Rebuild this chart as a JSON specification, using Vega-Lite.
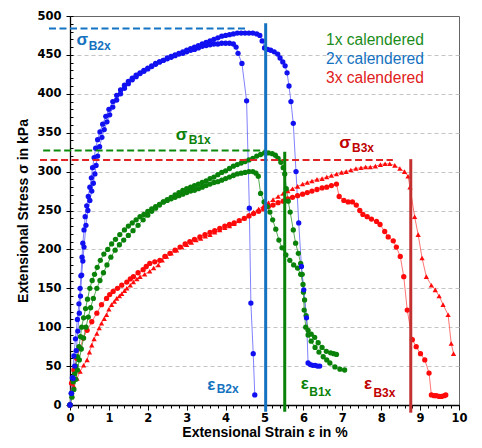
{
"$schema":"https://vega.github.io/schema/vega-lite/v6.json",
"width":389,"height":389,
"autosize":{"type":"none"},
"padding":{"left":70,"top":16,"right":23,"bottom":43},
"background":"white",
"config":{"view":{"stroke":"#666","strokeWidth":1},"axis":{"labelFont":"DejaVu Sans","labelFontWeight":"bold","labelFontSize":11.5,"labelColor":"black","titleFont":"Liberation Sans","titleFontSize":14,"titleFontWeight":"bold","titleColor":"black","domainColor":"black","domainWidth":1.3,"tickColor":"black","tickWidth":1,"labelFlush":false,"labelOverlap":false,"grid":false}},
"datasets":{
"curves":[
{"s":"3c","x":0,"y":0},{"s":"3c","x":0.04,"y":28},{"s":"3c","x":0.1,"y":45},{"s":"3c","x":0.17,"y":60},{"s":"3c","x":0.26,"y":73},{"s":"3c","x":0.34,"y":86},{"s":"3c","x":0.44,"y":96},{"s":"3c","x":0.56,"y":107},{"s":"3c","x":0.69,"y":118},{"s":"3c","x":0.81,"y":129},{"s":"3c","x":0.94,"y":137},{"s":"3c","x":1.02,"y":142},{"s":"3c","x":1.11,"y":146},{"s":"3c","x":1.22,"y":150},{"s":"3c","x":1.33,"y":154},{"s":"3c","x":1.46,"y":158},{"s":"3c","x":1.55,"y":162},{"s":"3c","x":1.63,"y":165},{"s":"3c","x":1.75,"y":170},{"s":"3c","x":1.88,"y":174},{"s":"3c","x":1.96,"y":178},{"s":"3c","x":2.05,"y":182},{"s":"3c","x":2.18,"y":184},{"s":"3c","x":2.31,"y":186},{"s":"3c","x":2.44,"y":191},{"s":"3c","x":2.57,"y":195},{"s":"3c","x":2.7,"y":199},{"s":"3c","x":2.83,"y":203},{"s":"3c","x":2.96,"y":207},{"s":"3c","x":3.08,"y":210},{"s":"3c","x":3.2,"y":213},{"s":"3c","x":3.34,"y":216},{"s":"3c","x":3.47,"y":219},{"s":"3c","x":3.6,"y":222},{"s":"3c","x":3.72,"y":224},{"s":"3c","x":3.85,"y":227},{"s":"3c","x":3.98,"y":230},{"s":"3c","x":4.1,"y":232},{"s":"3c","x":4.22,"y":234},{"s":"3c","x":4.35,"y":237},{"s":"3c","x":4.48,"y":240},{"s":"3c","x":4.6,"y":243},{"s":"3c","x":4.72,"y":246},{"s":"3c","x":4.85,"y":249},{"s":"3c","x":4.98,"y":252},{"s":"3c","x":5.1,"y":255},{"s":"3c","x":5.22,"y":257},{"s":"3c","x":5.35,"y":260},{"s":"3c","x":5.48,"y":262},{"s":"3c","x":5.6,"y":265},{"s":"3c","x":5.72,"y":267},{"s":"3c","x":5.85,"y":269},{"s":"3c","x":5.98,"y":271},{"s":"3c","x":6.1,"y":273},{"s":"3c","x":6.22,"y":275},{"s":"3c","x":6.35,"y":277},{"s":"3c","x":6.48,"y":279},{"s":"3c","x":6.6,"y":280},{"s":"3c","x":6.72,"y":282},{"s":"3c","x":6.85,"y":284},{"s":"3c","x":6.92,"y":268},{"s":"3c","x":7.04,"y":263},{"s":"3c","x":7.15,"y":261},{"s":"3c","x":7.26,"y":261},{"s":"3c","x":7.36,"y":257},{"s":"3c","x":7.45,"y":250},{"s":"3c","x":7.53,"y":245},{"s":"3c","x":7.64,"y":242},{"s":"3c","x":7.75,"y":239},{"s":"3c","x":7.88,"y":236},{"s":"3c","x":7.97,"y":232},{"s":"3c","x":8.09,"y":223},{"s":"3c","x":8.18,"y":216},{"s":"3c","x":8.31,"y":211},{"s":"3c","x":8.39,"y":203},{"s":"3c","x":8.49,"y":191},{"s":"3c","x":8.58,"y":165},{"s":"3c","x":8.67,"y":122},{"s":"3c","x":8.8,"y":84},{"s":"3c","x":8.9,"y":75},{"s":"3c","x":9.01,"y":66},{"s":"3c","x":9.12,"y":58},{"s":"3c","x":9.23,"y":41},{"s":"3c","x":9.29,"y":13},{"s":"3c","x":9.36,"y":12},{"s":"3c","x":9.42,"y":12},{"s":"3c","x":9.49,"y":11},{"s":"3c","x":9.55,"y":11},{"s":"3c","x":9.62,"y":12},{"s":"3c","x":9.66,"y":13},
{"s":"3t","x":0,"y":0},{"s":"3t","x":0.05,"y":12},{"s":"3t","x":0.1,"y":24},{"s":"3t","x":0.18,"y":34},{"s":"3t","x":0.26,"y":43},{"s":"3t","x":0.35,"y":51},{"s":"3t","x":0.44,"y":58},{"s":"3t","x":0.5,"y":68},{"s":"3t","x":0.56,"y":77},{"s":"3t","x":0.62,"y":85},{"s":"3t","x":0.69,"y":92},{"s":"3t","x":0.75,"y":99},{"s":"3t","x":0.81,"y":105},{"s":"3t","x":0.88,"y":111},{"s":"3t","x":0.94,"y":116},{"s":"3t","x":1.0,"y":123},{"s":"3t","x":1.07,"y":129},{"s":"3t","x":1.14,"y":133},{"s":"3t","x":1.2,"y":137},{"s":"3t","x":1.27,"y":140},{"s":"3t","x":1.33,"y":143},{"s":"3t","x":1.4,"y":147},{"s":"3t","x":1.46,"y":150},{"s":"3t","x":1.55,"y":154},{"s":"3t","x":1.63,"y":158},{"s":"3t","x":1.72,"y":162},{"s":"3t","x":1.8,"y":165},{"s":"3t","x":1.92,"y":168},{"s":"3t","x":2.05,"y":172},{"s":"3t","x":2.15,"y":176},{"s":"3t","x":2.27,"y":180},{"s":"3t","x":2.37,"y":186},{"s":"3t","x":2.48,"y":191},{"s":"3t","x":2.6,"y":195},{"s":"3t","x":2.74,"y":199},{"s":"3t","x":2.87,"y":203},{"s":"3t","x":3.0,"y":206},{"s":"3t","x":3.12,"y":209},{"s":"3t","x":3.24,"y":212},{"s":"3t","x":3.36,"y":214},{"s":"3t","x":3.48,"y":217},{"s":"3t","x":3.6,"y":219},{"s":"3t","x":3.72,"y":222},{"s":"3t","x":3.85,"y":225},{"s":"3t","x":3.98,"y":228},{"s":"3t","x":4.1,"y":230},{"s":"3t","x":4.22,"y":233},{"s":"3t","x":4.35,"y":237},{"s":"3t","x":4.48,"y":240},{"s":"3t","x":4.6,"y":244},{"s":"3t","x":4.72,"y":248},{"s":"3t","x":4.85,"y":252},{"s":"3t","x":4.98,"y":256},{"s":"3t","x":5.1,"y":260},{"s":"3t","x":5.22,"y":264},{"s":"3t","x":5.35,"y":268},{"s":"3t","x":5.48,"y":272},{"s":"3t","x":5.6,"y":275},{"s":"3t","x":5.72,"y":278},{"s":"3t","x":5.85,"y":281},{"s":"3t","x":5.98,"y":284},{"s":"3t","x":6.1,"y":286},{"s":"3t","x":6.22,"y":288},{"s":"3t","x":6.35,"y":290},{"s":"3t","x":6.48,"y":291},{"s":"3t","x":6.6,"y":293},{"s":"3t","x":6.72,"y":295},{"s":"3t","x":6.85,"y":297},{"s":"3t","x":6.98,"y":299},{"s":"3t","x":7.1,"y":300},{"s":"3t","x":7.22,"y":302},{"s":"3t","x":7.35,"y":304},{"s":"3t","x":7.48,"y":305},{"s":"3t","x":7.6,"y":306},{"s":"3t","x":7.72,"y":306},{"s":"3t","x":7.85,"y":307},{"s":"3t","x":7.98,"y":309},{"s":"3t","x":8.1,"y":310},{"s":"3t","x":8.22,"y":310},{"s":"3t","x":8.35,"y":308},{"s":"3t","x":8.48,"y":304},{"s":"3t","x":8.6,"y":300},{"s":"3t","x":8.69,"y":294},{"s":"3t","x":8.74,"y":280},{"s":"3t","x":8.86,"y":242},{"s":"3t","x":8.95,"y":219},{"s":"3t","x":9.05,"y":189},{"s":"3t","x":9.16,"y":165},{"s":"3t","x":9.29,"y":154},{"s":"3t","x":9.39,"y":148},{"s":"3t","x":9.49,"y":140},{"s":"3t","x":9.59,"y":129},{"s":"3t","x":9.72,"y":116},{"s":"3t","x":9.8,"y":79},{"s":"3t","x":9.86,"y":66},
{"s":"1a","x":0,"y":0},{"s":"1a","x":0.04,"y":15},{"s":"1a","x":0.08,"y":30},{"s":"1a","x":0.12,"y":40},{"s":"1a","x":0.15,"y":50},{"s":"1a","x":0.19,"y":62},{"s":"1a","x":0.23,"y":75},{"s":"1a","x":0.27,"y":88},{"s":"1a","x":0.3,"y":100},{"s":"1a","x":0.35,"y":112},{"s":"1a","x":0.4,"y":124},{"s":"1a","x":0.45,"y":136},{"s":"1a","x":0.51,"y":150},{"s":"1a","x":0.57,"y":160},{"s":"1a","x":0.63,"y":168},{"s":"1a","x":0.7,"y":177},{"s":"1a","x":0.78,"y":186},{"s":"1a","x":0.87,"y":194},{"s":"1a","x":0.97,"y":200},{"s":"1a","x":1.07,"y":207},{"s":"1a","x":1.17,"y":213},{"s":"1a","x":1.28,"y":219},{"s":"1a","x":1.4,"y":225},{"s":"1a","x":1.5,"y":230},{"s":"1a","x":1.6,"y":234},{"s":"1a","x":1.7,"y":238},{"s":"1a","x":1.8,"y":242},{"s":"1a","x":1.9,"y":245},{"s":"1a","x":2.0,"y":249},{"s":"1a","x":2.1,"y":252},{"s":"1a","x":2.2,"y":255},{"s":"1a","x":2.3,"y":258},{"s":"1a","x":2.4,"y":261},{"s":"1a","x":2.5,"y":263},{"s":"1a","x":2.6,"y":265},{"s":"1a","x":2.7,"y":267},{"s":"1a","x":2.8,"y":269},{"s":"1a","x":2.9,"y":271},{"s":"1a","x":3.0,"y":273},{"s":"1a","x":3.1,"y":275},{"s":"1a","x":3.2,"y":276},{"s":"1a","x":3.3,"y":278},{"s":"1a","x":3.4,"y":280},{"s":"1a","x":3.5,"y":282},{"s":"1a","x":3.6,"y":284},{"s":"1a","x":3.7,"y":286},{"s":"1a","x":3.8,"y":287},{"s":"1a","x":3.9,"y":289},{"s":"1a","x":4.0,"y":291},{"s":"1a","x":4.1,"y":293},{"s":"1a","x":4.2,"y":295},{"s":"1a","x":4.3,"y":297},{"s":"1a","x":4.4,"y":298},{"s":"1a","x":4.5,"y":299},{"s":"1a","x":4.6,"y":300},{"s":"1a","x":4.7,"y":300},{"s":"1a","x":4.78,"y":298},{"s":"1a","x":4.84,"y":294},{"s":"1a","x":4.9,"y":272},{"s":"1a","x":4.99,"y":261},{"s":"1a","x":5.07,"y":255},{"s":"1a","x":5.14,"y":248},{"s":"1a","x":5.21,"y":238},{"s":"1a","x":5.29,"y":226},{"s":"1a","x":5.37,"y":212},{"s":"1a","x":5.45,"y":202},{"s":"1a","x":5.55,"y":193},{"s":"1a","x":5.65,"y":186},{"s":"1a","x":5.75,"y":180},{"s":"1a","x":5.85,"y":176},{"s":"1a","x":5.93,"y":168},{"s":"1a","x":5.99,"y":155},{"s":"1a","x":6.03,"y":135},{"s":"1a","x":6.07,"y":115},{"s":"1a","x":6.12,"y":96},{"s":"1a","x":6.2,"y":91},{"s":"1a","x":6.29,"y":87},{"s":"1a","x":6.38,"y":80},{"s":"1a","x":6.48,"y":74},{"s":"1a","x":6.59,"y":69},{"s":"1a","x":6.7,"y":67},{"s":"1a","x":6.78,"y":66},{"s":"1a","x":6.85,"y":65},
{"s":"1b","x":0,"y":0},{"s":"1b","x":0.05,"y":10},{"s":"1b","x":0.1,"y":20},{"s":"1b","x":0.15,"y":33},{"s":"1b","x":0.19,"y":45},{"s":"1b","x":0.24,"y":58},{"s":"1b","x":0.29,"y":72},{"s":"1b","x":0.35,"y":86},{"s":"1b","x":0.41,"y":100},{"s":"1b","x":0.47,"y":113},{"s":"1b","x":0.53,"y":125},{"s":"1b","x":0.6,"y":137},{"s":"1b","x":0.69,"y":150},{"s":"1b","x":0.77,"y":160},{"s":"1b","x":0.86,"y":170},{"s":"1b","x":0.95,"y":180},{"s":"1b","x":1.05,"y":190},{"s":"1b","x":1.16,"y":199},{"s":"1b","x":1.27,"y":206},{"s":"1b","x":1.38,"y":212},{"s":"1b","x":1.5,"y":218},{"s":"1b","x":1.62,"y":224},{"s":"1b","x":1.75,"y":231},{"s":"1b","x":1.88,"y":238},{"s":"1b","x":2.0,"y":244},{"s":"1b","x":2.1,"y":249},{"s":"1b","x":2.2,"y":253},{"s":"1b","x":2.3,"y":257},{"s":"1b","x":2.4,"y":261},{"s":"1b","x":2.5,"y":264},{"s":"1b","x":2.6,"y":267},{"s":"1b","x":2.7,"y":270},{"s":"1b","x":2.8,"y":273},{"s":"1b","x":2.9,"y":276},{"s":"1b","x":3.0,"y":278},{"s":"1b","x":3.1,"y":280},{"s":"1b","x":3.2,"y":282},{"s":"1b","x":3.3,"y":284},{"s":"1b","x":3.4,"y":286},{"s":"1b","x":3.5,"y":288},{"s":"1b","x":3.6,"y":291},{"s":"1b","x":3.7,"y":293},{"s":"1b","x":3.8,"y":296},{"s":"1b","x":3.9,"y":299},{"s":"1b","x":4.0,"y":301},{"s":"1b","x":4.1,"y":304},{"s":"1b","x":4.2,"y":307},{"s":"1b","x":4.3,"y":309},{"s":"1b","x":4.4,"y":311},{"s":"1b","x":4.5,"y":313},{"s":"1b","x":4.6,"y":315},{"s":"1b","x":4.7,"y":317},{"s":"1b","x":4.8,"y":320},{"s":"1b","x":4.9,"y":322},{"s":"1b","x":5.0,"y":324},{"s":"1b","x":5.1,"y":324},{"s":"1b","x":5.2,"y":323},{"s":"1b","x":5.28,"y":321},{"s":"1b","x":5.35,"y":317},{"s":"1b","x":5.42,"y":312},{"s":"1b","x":5.48,"y":305},{"s":"1b","x":5.52,"y":297},{"s":"1b","x":5.56,"y":278},{"s":"1b","x":5.61,"y":262},{"s":"1b","x":5.66,"y":248},{"s":"1b","x":5.74,"y":225},{"s":"1b","x":5.8,"y":208},{"s":"1b","x":5.87,"y":195},{"s":"1b","x":5.93,"y":182},{"s":"1b","x":5.97,"y":168},{"s":"1b","x":6.0,"y":145},{"s":"1b","x":6.02,"y":122},{"s":"1b","x":6.06,"y":100},{"s":"1b","x":6.12,"y":90},{"s":"1b","x":6.2,"y":82},{"s":"1b","x":6.3,"y":74},{"s":"1b","x":6.4,"y":68},{"s":"1b","x":6.51,"y":62},{"s":"1b","x":6.6,"y":58},{"s":"1b","x":6.68,"y":54},{"s":"1b","x":6.81,"y":49},{"s":"1b","x":6.94,"y":46},{"s":"1b","x":7.06,"y":45},
{"s":"2a","x":0,"y":0},{"s":"2a","x":0.03,"y":15},{"s":"2a","x":0.06,"y":35},{"s":"2a","x":0.1,"y":63},{"s":"2a","x":0.14,"y":85},{"s":"2a","x":0.19,"y":110},{"s":"2a","x":0.23,"y":130},{"s":"2a","x":0.26,"y":150},{"s":"2a","x":0.28,"y":166},{"s":"2a","x":0.31,"y":190},{"s":"2a","x":0.33,"y":208},{"s":"2a","x":0.36,"y":225},{"s":"2a","x":0.39,"y":242},{"s":"2a","x":0.43,"y":256},{"s":"2a","x":0.47,"y":268},{"s":"2a","x":0.51,"y":280},{"s":"2a","x":0.55,"y":292},{"s":"2a","x":0.58,"y":305},{"s":"2a","x":0.62,"y":318},{"s":"2a","x":0.66,"y":330},{"s":"2a","x":0.71,"y":341},{"s":"2a","x":0.77,"y":351},{"s":"2a","x":0.84,"y":361},{"s":"2a","x":0.92,"y":371},{"s":"2a","x":1.0,"y":380},{"s":"2a","x":1.1,"y":390},{"s":"2a","x":1.2,"y":398},{"s":"2a","x":1.3,"y":405},{"s":"2a","x":1.4,"y":411},{"s":"2a","x":1.5,"y":416},{"s":"2a","x":1.6,"y":420},{"s":"2a","x":1.7,"y":424},{"s":"2a","x":1.8,"y":427},{"s":"2a","x":1.9,"y":430},{"s":"2a","x":2.0,"y":433},{"s":"2a","x":2.1,"y":436},{"s":"2a","x":2.2,"y":439},{"s":"2a","x":2.3,"y":441},{"s":"2a","x":2.4,"y":443},{"s":"2a","x":2.5,"y":445},{"s":"2a","x":2.6,"y":447},{"s":"2a","x":2.7,"y":449},{"s":"2a","x":2.8,"y":451},{"s":"2a","x":2.9,"y":452},{"s":"2a","x":3.0,"y":454},{"s":"2a","x":3.1,"y":456},{"s":"2a","x":3.2,"y":457},{"s":"2a","x":3.3,"y":459},{"s":"2a","x":3.4,"y":461},{"s":"2a","x":3.5,"y":462},{"s":"2a","x":3.6,"y":463},{"s":"2a","x":3.7,"y":464},{"s":"2a","x":3.8,"y":464},{"s":"2a","x":3.9,"y":465},{"s":"2a","x":4.0,"y":465},{"s":"2a","x":4.1,"y":465},{"s":"2a","x":4.2,"y":464},{"s":"2a","x":4.27,"y":460},{"s":"2a","x":4.32,"y":452},{"s":"2a","x":4.42,"y":439},{"s":"2a","x":4.54,"y":391},{"s":"2a","x":4.61,"y":253},{"s":"2a","x":4.65,"y":131},{"s":"2a","x":4.71,"y":66},{"s":"2a","x":4.75,"y":13},
{"s":"2b","x":0,"y":0},{"s":"2b","x":0.04,"y":15},{"s":"2b","x":0.08,"y":34},{"s":"2b","x":0.12,"y":50},{"s":"2b","x":0.16,"y":70},{"s":"2b","x":0.2,"y":95},{"s":"2b","x":0.24,"y":118},{"s":"2b","x":0.27,"y":140},{"s":"2b","x":0.3,"y":167},{"s":"2b","x":0.33,"y":185},{"s":"2b","x":0.36,"y":203},{"s":"2b","x":0.41,"y":231},{"s":"2b","x":0.46,"y":250},{"s":"2b","x":0.51,"y":263},{"s":"2b","x":0.56,"y":275},{"s":"2b","x":0.6,"y":285},{"s":"2b","x":0.64,"y":297},{"s":"2b","x":0.67,"y":308},{"s":"2b","x":0.71,"y":320},{"s":"2b","x":0.76,"y":332},{"s":"2b","x":0.82,"y":344},{"s":"2b","x":0.88,"y":354},{"s":"2b","x":0.95,"y":364},{"s":"2b","x":1.02,"y":373},{"s":"2b","x":1.1,"y":383},{"s":"2b","x":1.2,"y":392},{"s":"2b","x":1.3,"y":400},{"s":"2b","x":1.4,"y":407},{"s":"2b","x":1.5,"y":413},{"s":"2b","x":1.6,"y":418},{"s":"2b","x":1.7,"y":422},{"s":"2b","x":1.8,"y":426},{"s":"2b","x":1.9,"y":429},{"s":"2b","x":2.0,"y":432},{"s":"2b","x":2.1,"y":435},{"s":"2b","x":2.2,"y":438},{"s":"2b","x":2.3,"y":441},{"s":"2b","x":2.4,"y":443},{"s":"2b","x":2.5,"y":446},{"s":"2b","x":2.6,"y":448},{"s":"2b","x":2.7,"y":450},{"s":"2b","x":2.8,"y":452},{"s":"2b","x":2.9,"y":454},{"s":"2b","x":3.0,"y":456},{"s":"2b","x":3.1,"y":458},{"s":"2b","x":3.2,"y":460},{"s":"2b","x":3.3,"y":462},{"s":"2b","x":3.4,"y":464},{"s":"2b","x":3.5,"y":466},{"s":"2b","x":3.6,"y":468},{"s":"2b","x":3.7,"y":470},{"s":"2b","x":3.8,"y":472},{"s":"2b","x":3.9,"y":474},{"s":"2b","x":4.0,"y":475},{"s":"2b","x":4.1,"y":476},{"s":"2b","x":4.2,"y":477},{"s":"2b","x":4.3,"y":478},{"s":"2b","x":4.4,"y":478},{"s":"2b","x":4.5,"y":478},{"s":"2b","x":4.6,"y":478},{"s":"2b","x":4.7,"y":478},{"s":"2b","x":4.8,"y":477},{"s":"2b","x":4.88,"y":475},{"s":"2b","x":4.94,"y":468},{"s":"2b","x":5.0,"y":459},{"s":"2b","x":5.08,"y":457},{"s":"2b","x":5.16,"y":456},{"s":"2b","x":5.25,"y":454},{"s":"2b","x":5.34,"y":451},{"s":"2b","x":5.4,"y":446},{"s":"2b","x":5.47,"y":441},{"s":"2b","x":5.53,"y":436},{"s":"2b","x":5.58,"y":427},{"s":"2b","x":5.63,"y":410},{"s":"2b","x":5.68,"y":390},{"s":"2b","x":5.74,"y":362},{"s":"2b","x":5.81,"y":300},{"s":"2b","x":5.88,"y":234},{"s":"2b","x":5.95,"y":178},{"s":"2b","x":6.01,"y":148},{"s":"2b","x":6.08,"y":112},{"s":"2b","x":6.12,"y":54},{"s":"2b","x":6.18,"y":52},{"s":"2b","x":6.24,"y":51},{"s":"2b","x":6.3,"y":51},{"s":"2b","x":6.36,"y":50},{"s":"2b","x":6.42,"y":50}
],
"hlines":[{"c":"2x","x":-0.54,"x2":4.5,"y":484},{"c":"1x","x":-0.69,"x2":5.01,"y":327},{"c":"3x","x":-0.77,"x2":8.3,"y":315}],
"vlines":[{"c":"2x","x":5.03,"y":-8.6,"y2":490.6},{"c":"1x","x":5.52,"y":-8.6,"y2":325.6},{"c":"3x","x":8.76,"y":-9.9,"y2":316}],
"sym":[{"t":"σ","c":"2x","x":0.17,"y":463},{"t":"σ","c":"1x","x":2.72,"y":340.6},{"t":"σ","c":"3x","x":6.92,"y":330},{"t":"ε","c":"2x","x":3.53,"y":19.3},{"t":"ε","c":"1x","x":5.93,"y":20.2},{"t":"ε","c":"3x","x":7.56,"y":20.2}],
"sub":[{"t":"B2x","c":"2x","x":0.48,"y":456},{"t":"B1x","c":"1x","x":3.05,"y":336},{"t":"B3x","c":"3x","x":7.25,"y":325},{"t":"B2x","c":"2x","x":3.77,"y":15.8},{"t":"B1x","c":"1x","x":6.15,"y":11.6},{"t":"B3x","c":"3x","x":7.8,"y":10.7}],
"leg":[{"t":"1x calendered","c":"1x","x":6.58,"y":463},{"t":"2x calendered","c":"2x","x":6.58,"y":438.7},{"t":"3x calendered","c":"3x","x":6.58,"y":413.8}]
},
"layer":[
{"data":{"name":"curves"},"mark":{"type":"line","strokeWidth":1,"opacity":0.85},
 "encoding":{
  "x":{"field":"x","type":"quantitative","scale":{"domain":[0,10],"nice":false,"zero":false},
   "axis":{"orient":"bottom","title":"Extensional Strain ε in %","values":[0,1,2,3,4,5,6,7,8,9,10],"format":"d","tickSize":5,
    "labelPadding":2,"titleX":194.5,"titleY":27,"titleBaseline":"middle","titleAlign":"center"}},
  "y":{"field":"y","type":"quantitative","scale":{"domain":[0,500],"nice":false,"zero":false},
   "axis":{"orient":"left","title":"Extensional Stress σ in kPa","values":[0,50,100,150,200,250,300,350,400,450,500],"format":"d","tickSize":4,
    "labelPadding":5,"titleX":-47,"titleY":194.5,"titleBaseline":"middle","titleAlign":"center"}},
  "color":{"field":"s","type":"nominal","legend":null,"scale":{"domain":["1a","1b","2a","2b","3c","3t"],"range":["#3a9a3a","#3a9a3a","#6b6bff","#6b6bff","#ff5a5a","#ff5a5a"]}},
  "detail":{"field":"s"}
 }},
{"data":{"name":"curves"},"mark":{"type":"point","filled":true,"opacity":1,"size":28},
 "encoding":{
  "x":{"field":"x","type":"quantitative","axis":{"orient":"bottom","title":null,"labels":false,"domain":false,"tickSize":3,"values":[0,0.2,0.4,0.6,0.8,1,1.2,1.4,1.6,1.8,2,2.2,2.4,2.6,2.8,3,3.2,3.4,3.6,3.8,4,4.2,4.4,4.6,4.8,5,5.2,5.4,5.6,5.8,6,6.2,6.4,6.6,6.8,7,7.2,7.4,7.6,7.8,8,8.2,8.4,8.6,8.8,9,9.2,9.4,9.6,9.8,10]}},
  "y":{"field":"y","type":"quantitative","axis":{"orient":"left","title":null,"labels":false,"domain":false,"tickSize":-3,"values":[0,10,20,30,40,50,60,70,80,90,100,110,120,130,140,150,160,170,180,190,200,210,220,230,240,250,260,270,280,290,300,310,320,330,340,350,360,370,380,390,400,410,420,430,440,450,460,470,480,490,500]}},
  "color":{"field":"s","type":"nominal","legend":null,"scale":{"domain":["1a","1b","2a","2b","3c","3t"],"range":["#0a820a","#0a820a","#1010f0","#1010f0","#ff0a0a","#ff0a0a"]}},
  "shape":{"field":"s","type":"nominal","legend":null,"scale":{"domain":["1a","1b","2a","2b","3c","3t"],"range":["circle","circle","circle","circle","circle","triangle-up"]}}
 }},
{"data":{"name":"hlines"},"mark":{"type":"rule","strokeWidth":2,"strokeDash":[7,3.5]},
 "encoding":{
  "x":{"field":"x","type":"quantitative","axis":null},"x2":{"field":"x2"},
  "y":{"field":"y","type":"quantitative","axis":{"orient":"left","title":null,"labels":false,"domain":false,"ticks":false,"grid":true,"gridColor":"#c4c4c4","gridDash":[4,3],"gridWidth":1,"values":[50,100,150,200,250,300,350,400,450]}},
  "color":{"field":"c","type":"nominal","legend":null,"scale":{"domain":["1x","2x","3x"],"range":["#0a8a0a","#1473c4","#e02424"]}}
 }},
{"data":{"name":"vlines"},"mark":{"type":"rule","strokeWidth":3},
 "encoding":{
  "x":{"field":"x","type":"quantitative","axis":null},
  "y":{"field":"y","type":"quantitative","axis":null},"y2":{"field":"y2"},
  "color":{"field":"c","type":"nominal","legend":null,"scale":{"domain":["1x","2x","3x"],"range":["#0a820a","#1472c0","#c23030"]}}
 }},
{"data":{"name":"sym"},"mark":{"type":"text","font":"Liberation Sans","fontWeight":"bold","fontSize":17,"align":"left","baseline":"alphabetic"},
 "encoding":{
  "x":{"field":"x","type":"quantitative","axis":null},
  "y":{"field":"y","type":"quantitative","axis":null},
  "text":{"field":"t"},
  "color":{"field":"c","type":"nominal","legend":null,"scale":{"domain":["1x","2x","3x"],"range":["#0a820a","#1472c0","#c00000"]}}
 }},
{"data":{"name":"sub"},"mark":{"type":"text","font":"Liberation Sans","fontWeight":"bold","fontSize":12,"align":"left","baseline":"alphabetic"},
 "encoding":{
  "x":{"field":"x","type":"quantitative","axis":null},
  "y":{"field":"y","type":"quantitative","axis":null},
  "text":{"field":"t"},
  "color":{"field":"c","type":"nominal","legend":null,"scale":{"domain":["1x","2x","3x"],"range":["#0a820a","#1472c0","#c00000"]}}
 }},
{"data":{"name":"leg"},"mark":{"type":"text","font":"Liberation Sans","fontSize":15.6,"align":"left","baseline":"alphabetic"},
 "encoding":{
  "x":{"field":"x","type":"quantitative","axis":null},
  "y":{"field":"y","type":"quantitative","axis":null},
  "text":{"field":"t"},
  "color":{"field":"c","type":"nominal","legend":null,"scale":{"domain":["1x","2x","3x"],"range":["#1a8c1a","#1472c0","#e02020"]}}
 }}
],
"resolve":{"scale":{"color":"independent","shape":"independent"},"axis":{"x":"independent","y":"independent"}}
}
